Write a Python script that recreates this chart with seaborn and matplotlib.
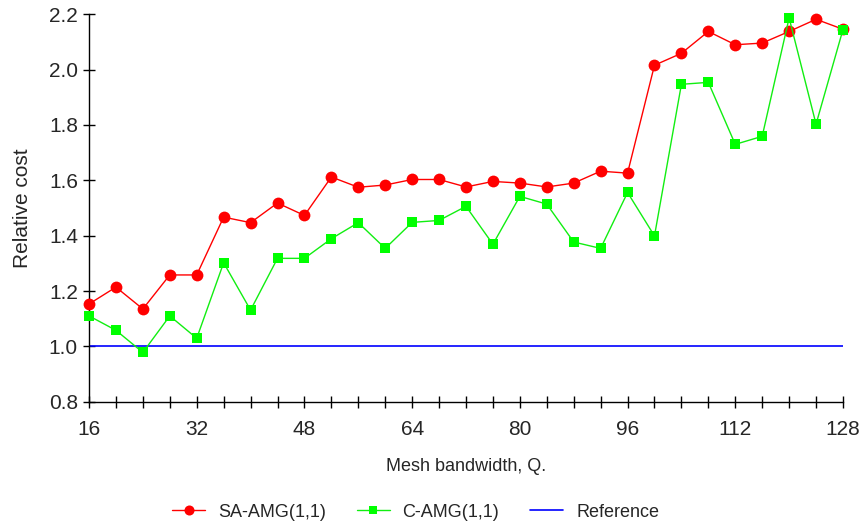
import numpy as np
import pandas as pd
import matplotlib
matplotlib.use("Agg")
import matplotlib.pyplot as plt
import seaborn as sns

# data
bandwidth = [16, 20, 24, 28, 32, 36, 40, 44, 48, 52, 56, 60, 64, 68, 72,
             76, 80, 84, 88, 92, 96, 100, 104, 108, 112, 116, 120, 124, 128]
sa_amg = [1.153, 1.214, 1.135, 1.258, 1.258, 1.467, 1.447, 1.518, 1.473, 1.612,
          1.575, 1.583, 1.603, 1.603, 1.576, 1.596, 1.590, 1.576, 1.590, 1.633,
          1.626, 2.016, 2.059, 2.138, 2.090, 2.096, 2.138, 2.182, 2.146]
c_amg = [1.110, 1.058, 0.978, 1.110, 1.029, 1.302, 1.131, 1.318, 1.318, 1.389,
         1.447, 1.354, 1.448, 1.455, 1.506, 1.369, 1.542, 1.514, 1.377, 1.354,
         1.556, 1.399, 1.947, 1.954, 1.730, 1.759, 2.187, 1.803, 2.145]
reference = [1.0] * len(bandwidth)

df = pd.DataFrame({"Q": bandwidth, "SA": sa_amg, "C": c_amg, "Ref": reference})

sns.set_style("ticks")
plt.rcParams['font.family'] = ['Liberation Sans', 'DejaVu Sans']

fig = plt.figure(figsize=(8.6, 5.22), dpi=100)
ax = fig.add_axes([0.1035, 0.2305, 0.8767, 0.7421])

sns.lineplot(data=df, x="Q", y="SA", ax=ax, color="#ff0000", lw=1,
             marker="o", markersize=8.5, markeredgewidth=0, label="SA-AMG(1,1)",
             clip_on=False, zorder=3)
sns.lineplot(data=df, x="Q", y="C", ax=ax, color="#11ee11", lw=1,
             marker="s", markersize=7.5, markeredgewidth=0, markerfacecolor="#00ff00",
             label="C-AMG(1,1)", clip_on=False, zorder=4)
sns.lineplot(data=df, x="Q", y="Ref", ax=ax, color="#0000ff", lw=1.2,
             label="Reference", zorder=2)

ax.set_xlim(16, 128)
ax.set_ylim(0.8, 2.2)
ax.set_xticks(np.arange(16, 129, 16))
ax.set_xticks(np.arange(16, 129, 4), minor=True)
ax.set_yticks(np.arange(0.8, 2.21, 0.2))
ax.yaxis.set_major_formatter(matplotlib.ticker.FormatStrFormatter('%.1f'))
ax.tick_params(axis='both', which='both', direction='inout', length=8, width=1,
               labelsize=15, color='black')
ax.tick_params(axis='x', which='major', pad=9)
ax.tick_params(axis='y', which='major', pad=4)
for s in ['top', 'right']:
    ax.spines[s].set_visible(False)
for s in ['left', 'bottom']:
    ax.spines[s].set_color('black')
    ax.spines[s].set_linewidth(1)

ax.set_xlabel("Mesh bandwidth, Q.", fontsize=13, labelpad=14)
ax.set_ylabel("Relative cost", fontsize=15, labelpad=12)

leg = ax.legend(loc='center', bbox_to_anchor=(0.433, -0.285), ncol=3,
                frameon=False, fontsize=13, handlelength=1.85, handletextpad=0.7,
                columnspacing=1.7, markerscale=0.85)

fig.savefig("out.png", dpi=100)
